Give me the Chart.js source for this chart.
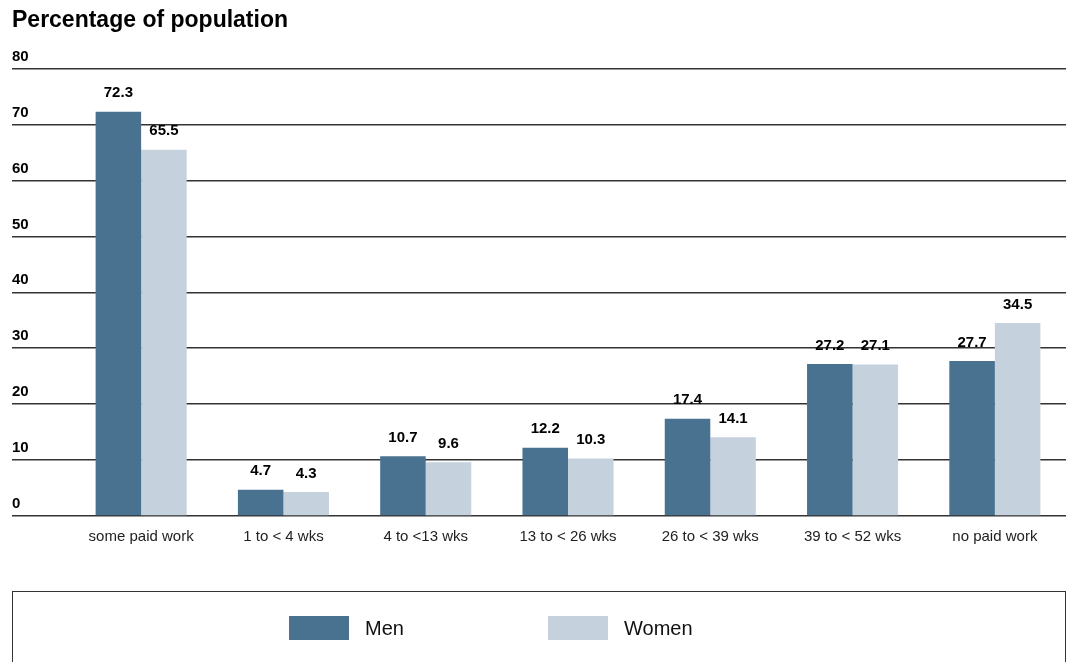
<!DOCTYPE html>
<html>
<head>
<meta charset="utf-8">
<title>Percentage of population</title>
<script src="https://cdn.jsdelivr.net/npm/chart.js@4.4.0/dist/chart.umd.min.js"></script>
<style>
  html, body { margin: 0; padding: 0; background: #fff; overflow: hidden; }
  #wrap { position: relative; width: 1068px; height: 662px; }
  #legend {
    position: absolute; left: 12px; top: 591px; width: 1052px; height: 90px;
    border: 1.5px solid #333; font-family: "Liberation Sans", Arial, sans-serif;
  }
  .item { position: absolute; top: 24px; display: flex; align-items: center; font-size: 20px; color: #111; }
  .swatch { width: 60px; height: 24px; margin-right: 16px; }
</style>
</head>
<body>
<div id="wrap">
  <canvas id="chart" width="1068" height="662"></canvas>
  <div id="legend"></div>
</div>
<script>
// Data
const categories = ["some paid work", "1 to < 4 wks", "4 to <13 wks", "13 to < 26 wks",
  "26 to < 39 wks", "39 to < 52 wks", "no paid work"];
const men = [72.3, 4.7, 10.7, 12.2, 17.4, 27.2, 27.7];
const women = [65.5, 4.3, 9.6, 10.3, 14.1, 27.1, 34.5];
const yTicks = [0, 10, 20, 30, 40, 50, 60, 70, 80];

const FONT = "'Liberation Sans', Arial, Helvetica, sans-serif";
const MEN_COLOR = "#48728f";
const WOMEN_COLOR = "#c5d1dc";

// value labels above each bar
const barLabels = {
  id: "barLabels",
  afterDatasetsDraw(chart) {
    const ctx = chart.ctx;
    ctx.save();
    ctx.font = "bold 15px " + FONT;
    ctx.fillStyle = "#000";
    ctx.textAlign = "center";
    ctx.textBaseline = "bottom";
    chart.data.datasets.forEach((ds, i) => {
      chart.getDatasetMeta(i).data.forEach((bar, j) => {
        ctx.fillText(ds.data[j].toFixed(1), bar.x, bar.y - 11);
      });
    });
    ctx.restore();
  }
};

const chart = new Chart(document.getElementById("chart").getContext("2d"), {
  type: "bar",
  data: {
    labels: categories,
    datasets: [
      { label: "Men", data: men, backgroundColor: MEN_COLOR },
      { label: "Women", data: women, backgroundColor: WOMEN_COLOR }
    ]
  },
  options: {
    responsive: false,
    animation: false,
    categoryPercentage: 0.64,
    barPercentage: 1,
    layout: { padding: { left: 12, right: 2, top: 0, bottom: 104 } },
    plugins: {
      legend: { display: false },
      tooltip: { enabled: false },
      title: {
        display: true,
        text: "Percentage of population",
        align: "start",
        color: "#000",
        font: { family: FONT, size: 23, weight: "bold" },
        padding: { top: 7, bottom: 34 }
      }
    },
    scales: {
      x: {
        grid: { display: false, drawTicks: false },
        border: { display: false },
        ticks: { color: "#222", font: { family: FONT, size: 15 }, padding: 12, maxRotation: 0 }
      },
      y: {
        min: 0,
        max: 80,
        afterFit: (scale) => { scale.width = 58; },
        afterBuildTicks: (scale) => { scale.ticks = yTicks.map(v => ({ value: v })); },
        grid: { color: "#333", lineWidth: 1.5, tickLength: 58, drawTicks: true },
        border: { display: false },
        ticks: {
          crossAlign: "far",
          labelOffset: -12,
          color: "#000",
          font: { family: FONT, size: 15, weight: "bold" }
        }
      }
    }
  },
  plugins: [barLabels]
});

// legend in a bordered box
const legend = document.getElementById("legend");
const legendX = [276, 535];
chart.data.datasets.forEach((ds, i) => {
  const item = document.createElement("div");
  item.className = "item";
  item.style.left = legendX[i] + "px";
  item.innerHTML = '<span class="swatch" style="background:' + ds.backgroundColor + '"></span>' + ds.label;
  legend.appendChild(item);
});
</script>
</body>
</html>
